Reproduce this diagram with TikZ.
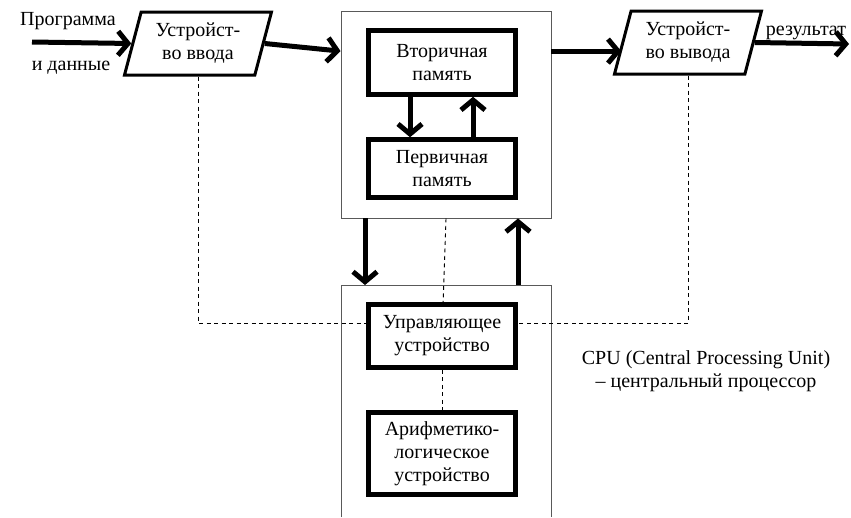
\documentclass[tikz,border=0pt]{standalone}
\usepackage{fontspec}
\setmainfont{Liberation Serif}
\usetikzlibrary{shapes.geometric,arrows.meta}

\begin{document}
\begin{tikzpicture}[x=1pt,y=-1pt,
  font=\fontsize{20}{23}\selectfont,
  unit/.style={draw=black, line width=4.5pt, fill=white, minimum width=147pt, align=center, inner sep=1pt},
  device/.style={trapezium, trapezium stretches=true, trapezium left angle=73, trapezium right angle=107,
    draw=black, line width=3pt, fill=white, minimum width=147pt, minimum height=63pt, align=center, inner sep=0pt},
  frame/.style={draw=black!65, line width=0.9pt},
  flow/.style={line width=5pt, -{Straight Barb[length=10pt,width=24pt]}},
  ctl/.style={line width=0.9pt, dash pattern=on 4pt off 3.5pt}]
\useasboundingbox (0,0) rectangle (851,517);
\node [device] (in) at (198,43.5) {Устройст-\\во ввода};
\node [device] (out) at (688,42.5) {Устройст-\\во вывода};
\node (prog) at (68,21) {Программа};
\node (data) at (71,68) {и данные};
\node (res) at (806,33) {результат};
\coordinate (src) at (32,42);
\coordinate (dst) at (849,44);
\coordinate (bus) at (0,323);
\coordinate (cpu) at (446,285);
% memory block
\node [frame, minimum width=210pt, minimum height=207pt] (mem) at (446,114.5) {};
\node [unit, minimum height=64pt] (sec) at (442,62.5) {Вторичная\\память};
\node [unit, minimum height=58pt, below of=sec, node distance=106pt] (prim) {Первичная\\память};
% processor block
\draw [frame] (341,517) -- (341,285) -- (551,285) -- (551,517);
\draw [ctl] (in.south) -- (in.south |- bus) -- (442,323);
\draw [ctl] (out.south) -- (out.south |- bus) -- (442,323);
\draw [ctl] (mem.south) -- (442,336);
\node [unit, minimum height=63pt] (ctrl) at (442,336) {Управляющее\\устройство};
\node [unit, minimum height=82pt, below of=ctrl, node distance=117.5pt] (alu) {Арифметико-\\логическое\\устройство};
\draw [ctl] (ctrl.south) -- (alu.north);
\node [align=center] (cpuname) at (706,371) {CPU (Central Processing Unit)\\– центральный процессор};
% data flow
\draw [flow] (src) -- (in.west);
\draw [flow] (in.east) -- (mem.149);
\draw [flow] (mem.31) -- (mem.31 -| out.west);
\draw [flow] (out.east) -- (dst);
\draw [flow] ([xshift=-32pt]sec.south) -- ([xshift=-32pt]prim.north);
\draw [flow] ([xshift=31pt]prim.north) -- ([xshift=31pt]sec.south);
\draw [flow] ([xshift=-81pt]mem.south) -- ([xshift=-81pt]cpu);
\draw [flow] ([xshift=72pt]cpu) -- ([xshift=72pt]mem.south);
\end{tikzpicture}
\end{document}
